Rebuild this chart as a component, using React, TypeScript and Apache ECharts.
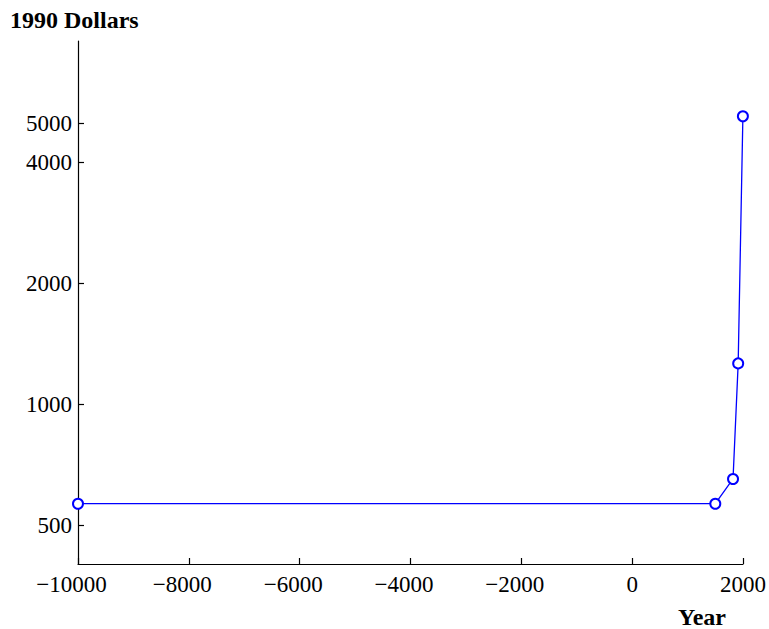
import React, { useEffect, useRef } from "react";
import * as echarts from "echarts";

const years = [-10000, 1500, 1820, 1913, 1998];
const dollars = [565, 565, 651, 1262, 5200];
const yTickValues = [500, 1000, 2000, 4000, 5000];
const yTitle = "1990 Dollars";
const xTitle = "Year";

const FONT = '"Liberation Serif", "Times New Roman", serif';

export default function App() {
  const ref = useRef<HTMLDivElement>(null);
  useEffect(() => {
    if (!ref.current) return;
    const chart = echarts.init(ref.current, null, { renderer: "svg" });
    chart.setOption({
      animation: false,
      backgroundColor: "#ffffff",
      grid: { left: 78, right: 25, top: 41, bottom: 65, containLabel: false },
      xAxis: {
        type: "value",
        min: -10000,
        max: 2000,
        interval: 2000,
        splitLine: { show: false },
        axisLine: { onZero: false, lineStyle: { color: "#000", width: 1.2 } },
        axisTick: { inside: true, length: 6, lineStyle: { color: "#000", width: 1.2 } },
        axisLabel: {
          color: "#000",
          fontFamily: FONT,
          fontSize: 23,
          margin: 9,
          formatter: (v: number) => (v < 0 ? "{neg|\u2212" + Math.abs(v) + "}" : "{pos|" + v + "}"),
          rich: {
            neg: { fontFamily: FONT, fontSize: 23, color: "#000", padding: [0, 13, 0, 0] },
            pos: { fontFamily: FONT, fontSize: 23, color: "#000" },
          },
        },
      },
      yAxis: {
        type: "log",
        logBase: 10,
        min: 400,
        max: 8000,
        splitLine: { show: false },
        minorTick: { show: false },
        axisLine: { show: true, onZero: false, lineStyle: { color: "#000", width: 1.2 } },
        axisTick: {
          show: true,
          inside: true,
          length: 6,
          lineStyle: { color: "#000", width: 1.2 },
          customValues: yTickValues,
        },
        axisLabel: {
          color: "#000",
          fontFamily: FONT,
          fontSize: 23,
          margin: 6,
          customValues: yTickValues,
          formatter: (v: number) => String(Math.round(v)),
        },
      },
      graphic: [
        {
          type: "text",
          left: 10,
          top: 8,
          style: { text: yTitle, font: "bold 24px " + FONT, fill: "#000" },
        },
        {
          type: "text",
          x: 702,
          y: 617,
          style: {
            text: xTitle,
            font: "bold 24px " + FONT,
            fill: "#000",
            align: "center",
            verticalAlign: "middle",
          },
        },
      ],
      series: [
        {
          type: "line",
          data: years.map((y, i) => [y, dollars[i]]),
          lineStyle: { color: "#0000ff", width: 1.3 },
          itemStyle: { color: "#ffffff", borderColor: "#0000ff", borderWidth: 2 },
          symbol: "circle",
          symbolSize: 10,
          showSymbol: true,
        },
      ],
    });
    return () => chart.dispose();
  }, []);
  return (
    <div
      ref={ref}
      style={{ position: "absolute", left: 0, top: 0, width: 769, height: 629 }}
    />
  );
}
